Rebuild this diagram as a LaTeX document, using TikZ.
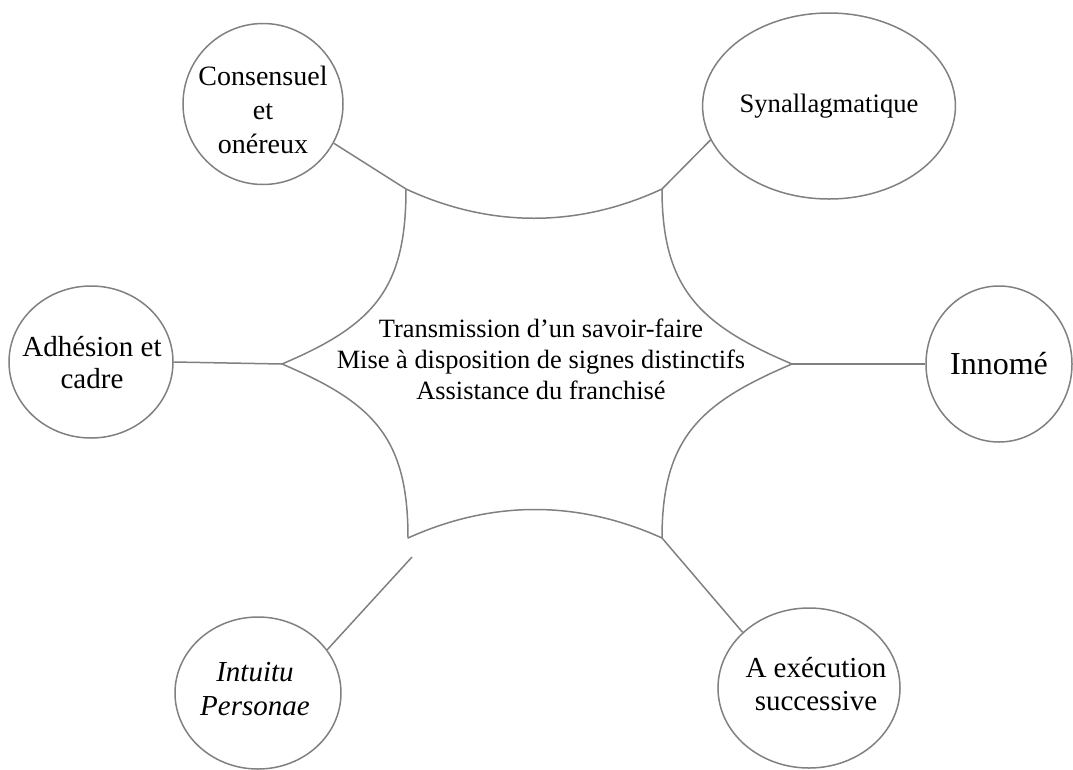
\documentclass[tikz,border=0pt]{standalone}
\usepackage{fontspec}
\setmainfont{Liberation Serif}
\usepackage{tikz}
\usetikzlibrary{shapes.geometric}
\definecolor{linegray}{RGB}{128,128,128}

\begin{document}
\begin{tikzpicture}[x=1pt, y=-1pt,
        bubble/.style={draw=linegray, line width=1.5pt, ellipse, inner sep=0pt},
        conn/.style={-, draw=linegray, line width=1.5pt},
        txt/.style={align=center, inner sep=0pt}]
        \useasboundingbox (0,0) rectangle (1073,769);
        \coordinate (tl) at (406,189);
        \coordinate (tr) at (662,189);
        \coordinate (r) at (792,364);
        \coordinate (br) at (662,538);
        \coordinate (bl) at (408,538);
        \coordinate (l) at (282,364);
        \draw[conn, line join=round] (tl) .. controls (490,228) and (578,228) .. (tr)
            .. controls (662,289) and (700,325) .. (r)
            .. controls (700,403) and (662,438) .. (br)
            .. controls (578,500) and (492,500) .. (bl)
            .. controls (408,438) and (374,403) .. (l)
            .. controls (374,325) and (406,289) .. (tl);
        \node[txt, font=\fontsize{26.4}{31}\selectfont] (centre) at (541,359)
            {Transmission d’un savoir-faire\\Mise à disposition de signes distinctifs\\Assistance du franchisé};
        \node[bubble, minimum width=160pt, minimum height=161pt] (cons) at (263,104) {};
        \node[txt, font=\fontsize{28}{34}\selectfont] (cons-t) at (263,110) {Consensuel\\et\\onéreux};
        \node[bubble, minimum width=204pt, minimum height=186pt,
            font=\fontsize{26.6}{32}\selectfont] (syn) at (829,106) {Synallagmatique};
        \node[bubble, minimum width=164pt, minimum height=152pt] (adh) at (91,362) {};
        \node[txt, font=\fontsize{29}{32}\selectfont] (adh-t) at (92,363) {Adhésion et\\cadre};
        \node[bubble, minimum width=146pt, minimum height=156pt,
            font=\fontsize{32}{36}\selectfont] (inn) at (999,364) {Innomé};
        \node[bubble, minimum width=166pt, minimum height=152pt] (int) at (258,693) {};
        \node[txt, font=\fontsize{29}{34}\selectfont\itshape] (int-t) at (255,689) {Intuitu\\Personae};
        \node[bubble, minimum width=182pt, minimum height=160pt] (exe) at (809,688) {};
        \node[txt, font=\fontsize{29}{33}\selectfont] (exe-t) at (816,684) {A exécution\\successive};
        \coordinate (bl-end) at (412,557);
        \draw[conn] (cons.331) -- (tl);
        \draw[conn] (syn.196) -- (tr);
        \draw[conn] (adh.east) -- (l);
        \draw[conn] (r) -- (inn.west);
        \draw[conn] (int.32) -- (bl-end);
        \draw[conn] (br) -- (exe.140);
    \end{tikzpicture}
\end{document}
